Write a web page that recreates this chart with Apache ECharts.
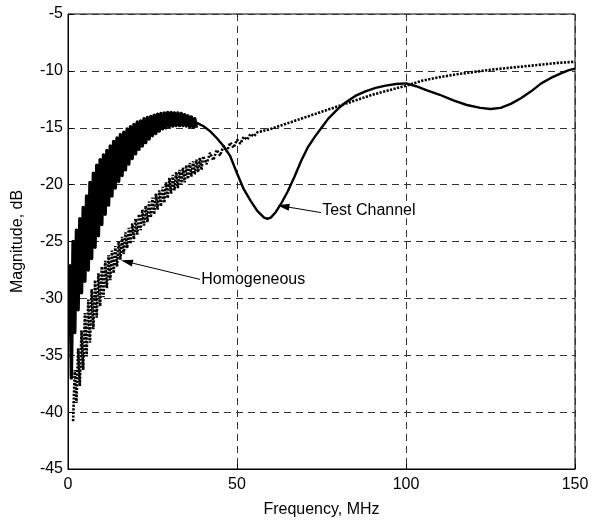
<!DOCTYPE html>
<html>
<head>
<meta charset="utf-8">
<script src="https://cdn.jsdelivr.net/npm/echarts@6/dist/echarts.min.js"></script>
<style>html,body{margin:0;padding:0;background:#fff}#c{width:601px;height:523px}</style>
</head>
<body>
<div id="c"></div>
<script>
// ---- data ----
// Test Channel: rippling part (alternating upper / lower envelope)
const testRippleFreq = [0.5,1,1.5,2,2.5,3,3.5,4,4.5,5,5.5,6,6.5,7,7.5,8,8.5,9,9.5,10,10.5,11,11.5,12,12.5,13,13.5,14,14.5,15,15.5,16,16.5,17,17.5,18,18.5,19,19.5,20,20.5,21,21.5,22,22.5,23,23.5,24,24.5,25,25.5,26,26.5,27,27.5,28,28.5,29,29.5,30,30.5,31,31.5,32,32.5,33,33.5,34,34.5,35,35.5,36,36.5,37,37.5,38];
const testRippleMag = [-27,-37,-25,-33,-24,-31,-23,-29.5,-22,-28.5,-21,-27.5,-19.8,-26.5,-19,-25.5,-18.3,-24.5,-17.8,-23.5,-17.4,-22.6,-17,-21.8,-16.6,-21,-16.2,-20.3,-15.9,-19.7,-15.6,-19.2,-15.4,-18.7,-15.1,-18.2,-14.9,-17.7,-14.7,-17.3,-14.5,-16.9,-14.4,-16.6,-14.2,-16.3,-14.1,-16,-14,-15.7,-13.9,-15.5,-13.8,-15.3,-13.75,-15.1,-13.7,-15,-13.65,-14.9,-13.65,-14.85,-13.7,-14.8,-13.7,-14.8,-13.75,-14.8,-13.85,-14.85,-13.95,-14.9,-14.05,-14.95,-14.2,-15];
// Test Channel: smooth part
const testFreq = [37,38,39,40,42,44,46,48,50,52,54,56,58,59,60,61.5,63,65,67,69,71,73,75,77,80,82,85,88,91,94,97,100,103,106,110,114,118,122,125,128,131,134,137,140,143,146,148,150];
const testMag = [-14.4,-14.55,-14.7,-14.85,-15.3,-15.9,-16.6,-17.5,-19.0,-20.4,-21.4,-22.3,-22.9,-23.0,-22.9,-22.4,-21.7,-20.6,-19.3,-17.9,-16.7,-15.8,-15.0,-14.2,-13.3,-12.8,-12.2,-11.8,-11.5,-11.3,-11.15,-11.1,-11.35,-11.7,-12.1,-12.6,-13.0,-13.25,-13.35,-13.25,-12.9,-12.4,-11.8,-11.1,-10.6,-10.2,-9.95,-9.8];

// Homogeneous: rippling part (alternating lower / upper envelope)
const homRippleFreq = [1.5,2,2.5,3,3.5,4,4.5,5,5.5,6,6.5,7,7.5,8,8.5,9,9.5,10,10.5,11,11.5,12,12.5,13,13.5,14,14.5,15,15.5,16,16.5,17,17.5,18,18.5,19,19.5,20,20.5,21,21.5,22,22.5,23,23.5,24,24.5,25,25.5,26,26.5,27,27.5,28,28.5,29,29.5,30,30.5,31,31.5,32,32.5,33,33.5,34,34.5,35,35.5,36,36.5,37,37.5,38,38.5,39,39.5,40,41,42,43,44,45,46,47,48,49,50,51,52,53,54,55,56];
const homRippleMag = [-40.8,-36.3,-39.2,-34.4,-37.7,-32.8,-36.3,-31.3,-35.1,-30.1,-33.9,-29.2,-32.7,-28.4,-31.7,-27.8,-30.7,-27.2,-29.9,-26.7,-29.1,-26.2,-28.4,-25.8,-27.8,-25.4,-27.2,-25.0,-26.6,-24.6,-26.1,-24.2,-25.6,-23.8,-25.2,-23.4,-24.8,-23.0,-24.4,-22.6,-24.0,-22.2,-23.6,-21.85,-23.3,-21.5,-22.9,-21.15,-22.6,-20.8,-22.2,-20.5,-21.9,-20.2,-21.6,-19.8,-21.2,-19.4,-20.8,-19.15,-20.5,-18.9,-20.3,-18.7,-20.0,-18.5,-19.8,-18.3,-19.5,-18.1,-19.3,-17.95,-19.1,-17.8,-18.9,-17.65,-18.7,-17.5,-18.2,-17.2,-17.85,-16.95,-17.45,-16.6,-17.1,-16.3,-16.75,-16.05,-16.4,-15.8,-16.05,-15.55,-15.75,-15.4];
// Homogeneous: smooth part
const homFreq = [60,65,70,75,80,85,90,95,100,105,110,115,120,125,130,135,140,145,150];
const homMag = [-15.1,-14.6,-14.1,-13.6,-13.1,-12.6,-12.1,-11.7,-11.3,-10.85,-10.55,-10.3,-10.1,-9.9,-9.75,-9.6,-9.45,-9.3,-9.2];

const xTicks = [0,50,100,150];
const yTicks = [-45,-40,-35,-30,-25,-20,-15,-10,-5];
const xName = 'Frequency, MHz';
const yName = 'Magnitude, dB';
// annotations: [tail f, tail dB, tip f, tip dB, text f, text dB, label]
const annTest = [74.85,-22.46,63.7,-21.9,75.2,-22.25,'Test Channel'];
const annHom = [39.05,-28.33,17.4,-26.78,39.4,-28.33,'Homogeneous'];

// ---- build ----
const pairs = (f, m) => f.map((x, i) => [x, m[i]]);
const homData = pairs(homRippleFreq, homRippleMag).concat(pairs(homFreq, homMag));

const FONT = 'Liberation Sans, Arial, sans-serif';
const chart = echarts.init(document.getElementById('c'), null, {renderer: 'canvas'});

function arrowLine(a) {
  return [{coord: [a[0], a[1]]}, {coord: [a[2], a[3]]}];
}

const option = {
  animation: false,
  backgroundColor: '#fff',
  grid: {left: 68, right: 26, top: 14, bottom: 53, show: true, borderColor: '#000', borderWidth: 1, backgroundColor: 'transparent'},
  xAxis: {
    type: 'value', min: xTicks[0], max: xTicks[xTicks.length - 1], interval: 50,
    name: xName, nameLocation: 'middle', nameGap: 33,
    nameTextStyle: {fontFamily: FONT, fontSize: 16, color: '#000'},
    axisLine: {show: true, onZero: false, lineStyle: {color: '#000', width: 1}},
    axisTick: {show: true, inside: true, length: 5, lineStyle: {color: '#000'}},
    axisLabel: {fontFamily: FONT, fontSize: 16, color: '#000', margin: 8},
    splitLine: {show: true, lineStyle: {color: '#333', type: [7, 5], width: 1}}
  },
  yAxis: {
    type: 'value', min: yTicks[0], max: yTicks[yTicks.length - 1], interval: 5,
    name: yName, nameLocation: 'middle', nameGap: 42, nameRotate: 90,
    nameTextStyle: {fontFamily: FONT, fontSize: 16, color: '#000'},
    axisLine: {show: true, onZero: false, lineStyle: {color: '#000', width: 1}},
    axisTick: {show: true, inside: true, length: 5, lineStyle: {color: '#000'}},
    axisLabel: {fontFamily: FONT, fontSize: 16, color: '#000', margin: 5},
    splitLine: {show: true, lineStyle: {color: '#333', type: [7, 5], width: 1}}
  },
  series: [
    {
      name: 'Homogeneous', type: 'line', data: homData, showSymbol: false, symbol: 'none',
      lineStyle: {color: '#000', width: 2.6, type: [2.2, 1.4]}, z: 3
    },
    {
      name: 'Test Channel', type: 'line', data: pairs(testRippleFreq, testRippleMag), showSymbol: false, symbol: 'none',
      lineStyle: {color: '#000', width: 3.4, join: 'round'}, z: 4
    },
    {
      name: 'Test Channel smooth', type: 'line', data: pairs(testFreq, testMag), showSymbol: false, symbol: 'none',
      lineStyle: {color: '#000', width: 2.4}, z: 4,
      markLine: {
        silent: true, animation: false,
        symbol: ['none', 'triangle'], symbolSize: [7, 12],
        lineStyle: {color: '#000', width: 1, type: 'solid'},
        label: {show: false},
        data: [arrowLine(annTest), arrowLine(annHom)]
      }
    }
  ]
};
chart.setOption(option);

function place() {
  const t1 = chart.convertToPixel({gridIndex: 0}, [annTest[4], annTest[5]]);
  const t2 = chart.convertToPixel({gridIndex: 0}, [annHom[4], annHom[5]]);
  chart.setOption({
    graphic: [
      {type: 'text', x: t1[0], y: t1[1], z: 10, style: {text: annTest[6], font: '16px ' + FONT, fill: '#000', textAlign: 'left', textVerticalAlign: 'middle', backgroundColor: '#fff'}},
      {type: 'text', x: t2[0], y: t2[1], z: 10, style: {text: annHom[6], font: '16px ' + FONT, fill: '#000', textAlign: 'left', textVerticalAlign: 'middle', backgroundColor: '#fff'}}
    ]
  });
}
place();
</script>
</body>
</html>
